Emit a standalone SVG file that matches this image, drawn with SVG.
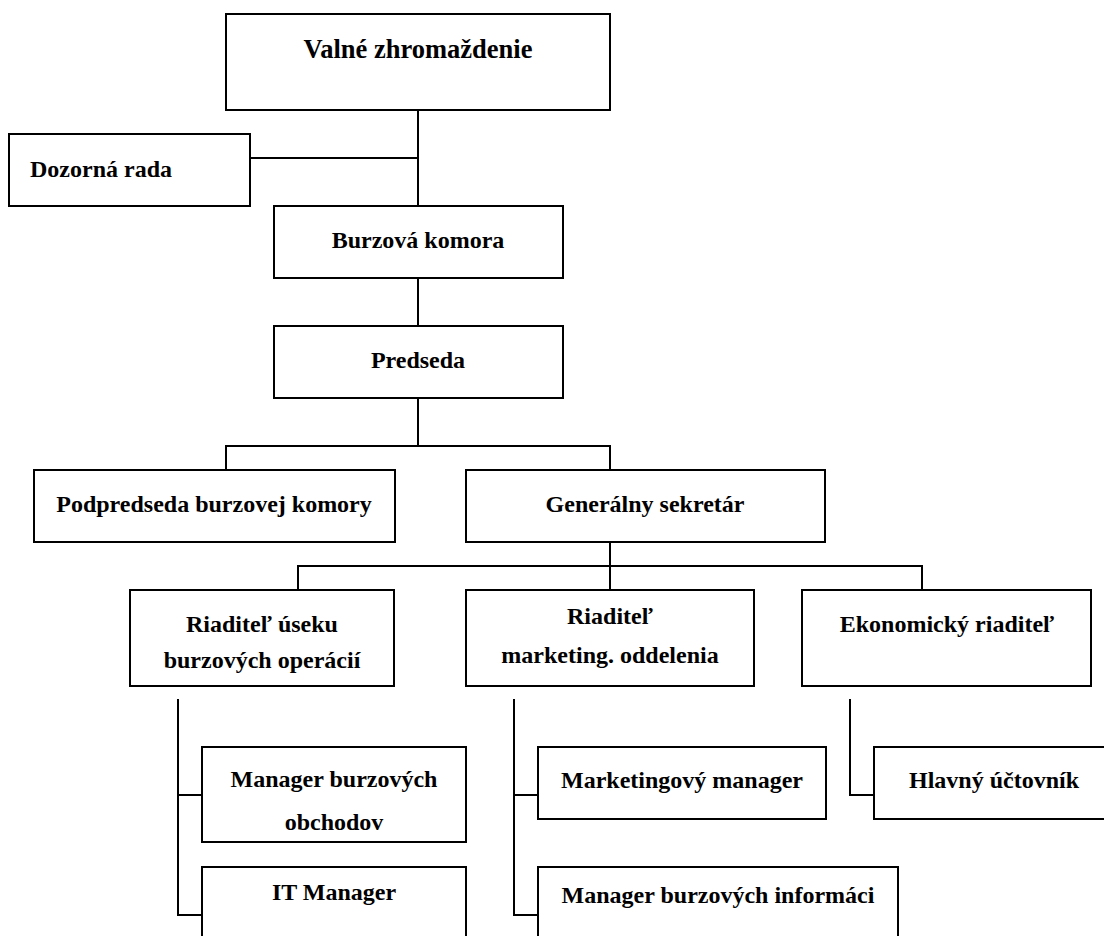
<svg xmlns="http://www.w3.org/2000/svg" width="1104" height="936" viewBox="0 0 1104 936">
<style>
  .box { fill: #ffffff; stroke: #000000; stroke-width: 2; }
  .conn { fill: none; stroke: #000000; stroke-width: 2; }
  text { font-family: "Liberation Serif", "Times New Roman", serif; font-weight: bold; font-size: 24px; fill: #000000; }
  .c { text-anchor: middle; }
  .title { font-size: 26.5px; }
</style>
<rect x="0" y="0" width="1104" height="936" fill="#ffffff"/>
<g id="connectors">
  <polyline class="conn" points="418,110 418,206"/>
  <polyline class="conn" points="250,158 418,158"/>
  <polyline class="conn" points="418,278 418,326"/>
  <polyline class="conn" points="418,398 418,446"/>
  <polyline class="conn" points="226,470 226,446 610,446 610,470"/>
  <polyline class="conn" points="610,542 610,590"/>
  <polyline class="conn" points="298,590 298,566 922,566 922,590"/>
  <polyline class="conn" points="178,699 178,915 202,915"/>
  <polyline class="conn" points="178,795 202,795"/>
  <polyline class="conn" points="514,699 514,915 538,915"/>
  <polyline class="conn" points="514,795 538,795"/>
  <polyline class="conn" points="850,699 850,795 874,795"/>
</g>
<g id="valne">
  <rect class="box" x="226" y="14" width="384" height="96"/>
  <text class="c title" x="418" y="58">Valné zhromaždenie</text>
</g>
<g id="dozorna">
  <rect class="box" x="9" y="134" width="241" height="72"/>
  <text x="30" y="177">Dozorná rada</text>
</g>
<g id="burzova">
  <rect class="box" x="274" y="206" width="289" height="72"/>
  <text class="c" x="418" y="248">Burzová komora</text>
</g>
<g id="predseda">
  <rect class="box" x="274" y="326" width="289" height="72"/>
  <text class="c" x="418" y="368">Predseda</text>
</g>
<g id="podpredseda">
  <rect class="box" x="34" y="470" width="361" height="72"/>
  <text class="c" x="214" y="512">Podpredseda burzovej komory</text>
</g>
<g id="generalny">
  <rect class="box" x="466" y="470" width="359" height="72"/>
  <text class="c" x="645" y="512">Generálny sekretár</text>
</g>
<g id="riaditel-useku">
  <rect class="box" x="130" y="590" width="264" height="96"/>
  <text class="c" x="262" y="632">Riaditeľ úseku</text>
  <text class="c" x="262" y="668">burzových operácií</text>
</g>
<g id="riaditel-marketing">
  <rect class="box" x="466" y="590" width="288" height="96"/>
  <text class="c" x="610" y="624">Riaditeľ</text>
  <text class="c" x="610" y="663">marketing. oddelenia</text>
</g>
<g id="ekonomicky">
  <rect class="box" x="802" y="590" width="289" height="96"/>
  <text class="c" x="947" y="632">Ekonomický riaditeľ</text>
</g>
<g id="manager-obchodov">
  <rect class="box" x="202" y="747" width="264" height="95"/>
  <text class="c" x="334" y="787">Manager burzových</text>
  <text class="c" x="334" y="830">obchodov</text>
</g>
<g id="it-manager">
  <rect class="box" x="202" y="867" width="264" height="90"/>
  <text class="c" x="334" y="900">IT Manager</text>
</g>
<g id="marketingovy">
  <rect class="box" x="538" y="747" width="288" height="72"/>
  <text class="c" x="682" y="788">Marketingový manager</text>
</g>
<g id="manager-informaci">
  <rect class="box" x="538" y="867" width="360" height="90"/>
  <text class="c" x="718" y="903">Manager burzových informáci</text>
</g>
<g id="hlavny">
  <rect class="box" x="874" y="747" width="240" height="72"/>
  <text class="c" x="994" y="788">Hlavný účtovník</text>
</g>
</svg>
